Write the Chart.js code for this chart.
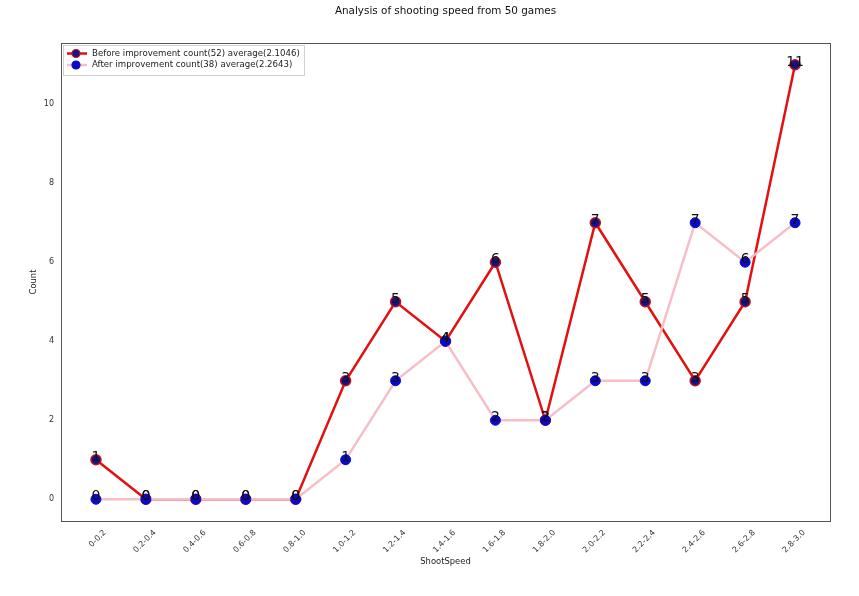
<!DOCTYPE html>
<html lang="en">
<head>
<meta charset="UTF-8">
<title>Analysis of shooting speed from 50 games</title>
<script src="https://cdn.jsdelivr.net/npm/chart.js"></script>
<style>
  html, body { margin: 0; padding: 0; background: #fff; }
  #wrap { width: 859px; height: 596px; }
</style>
</head>
<body>
<div id="wrap"><canvas id="shootChart" width="859" height="596"></canvas></div>
<script>
const categories = ['0-0.2', '0.2-0.4', '0.4-0.6', '0.6-0.8', '0.8-1.0', '1.0-1.2', '1.2-1.4', '1.4-1.6',
  '1.6-1.8', '1.8-2.0', '2.0-2.2', '2.2-2.4', '2.4-2.6', '2.6-2.8', '2.8-3.0']
const beforeCounts = [1, 0, 0, 0, 0, 3, 5, 4, 6, 2, 7, 5, 3, 5, 11]
const afterCounts = [0, 0, 0, 0, 0, 1, 3, 4, 2, 2, 3, 3, 7, 6, 7]
const yTicks = [0, 2, 4, 6, 8, 10]
const beforeLabel = 'Before improvement count(52) average(2.1046)'
const afterLabel = 'After improvement count(38) average(2.2643)'
const chartTitle = 'Analysis of shooting speed from 50 games'

const FONT = "'DejaVu Sans', sans-serif"

// matplotlib-ish frame: fixed plot box
const BOX = { left: 61, top: 43, right: 830, bottom: 521 }

const valueLabels = {
  id: 'valueLabels',
  afterDatasetsDraw(chart) {
    const ctx = chart.ctx
    ctx.save()
    ctx.font = '14px ' + FONT
    ctx.fillStyle = '#111'
    ctx.textAlign = 'center'
    ctx.textBaseline = 'alphabetic'
    chart.data.datasets.forEach((ds, di) => {
      chart.getDatasetMeta(di).data.forEach((pt, i) => {
        ctx.fillText(String(ds.data[i].y), pt.x, pt.y + 1)
      })
    })
    ctx.restore()
  }
}

const frameAndLegend = {
  id: 'frameAndLegend',
  afterDraw(chart) {
    const ctx = chart.ctx
    const a = chart.chartArea
    ctx.save()
    ctx.strokeStyle = '#555'
    ctx.lineWidth = 1
    ctx.strokeRect(a.left + 0.5, a.top + 0.5, a.right - a.left, a.bottom - a.top)

    // title
    ctx.fillStyle = '#111'
    ctx.font = '10.4px ' + FONT
    ctx.textAlign = 'center'
    ctx.textBaseline = 'middle'
    ctx.fillText(chartTitle, (a.left + a.right) / 2, 11)

    // legend box
    const lx = 63, ly = 45, lw = 241, lh = 30
    ctx.fillStyle = 'rgba(255,255,255,0.85)'
    ctx.fillRect(lx, ly, lw, lh)
    ctx.strokeStyle = '#d0d0d0'
    ctx.strokeRect(lx + 0.5, ly + 0.5, lw, lh)
    const rows = [beforeLabel, afterLabel]
    chart.data.datasets.forEach((ds, di) => {
      const y = ly + 8.5 + di * 11.5
      ctx.strokeStyle = ds.borderColor
      ctx.lineWidth = ds.borderWidth
      ctx.beginPath()
      ctx.moveTo(lx + 4, y)
      ctx.lineTo(lx + 24, y)
      ctx.stroke()
      ctx.beginPath()
      ctx.arc(lx + 13, y, 4, 0, Math.PI * 2)
      ctx.fillStyle = ds.pointBackgroundColor
      ctx.fill()
      ctx.lineWidth = 1.2
      ctx.strokeStyle = ds.pointBorderColor
      ctx.stroke()
      ctx.fillStyle = '#222'
      ctx.font = '8.6px ' + FONT
      ctx.textAlign = 'left'
      ctx.textBaseline = 'middle'
      ctx.fillText(rows[di], lx + 29, y)
    })
    ctx.restore()
  }
}

const toPoints = arr => arr.map((v, i) => ({ x: i, y: v }))

new Chart(document.getElementById('shootChart').getContext('2d'), {
  type: 'line',
  data: {
    datasets: [
      {
        label: beforeLabel,
        data: toPoints(beforeCounts),
        borderColor: '#e31010',
        borderWidth: 2.5,
        pointBackgroundColor: '#14148a',
        pointBorderColor: '#c0101a',
        pointBorderWidth: 1.5,
        pointRadius: 5,
        tension: 0,
        order: 2
      },
      {
        label: afterLabel,
        data: toPoints(afterCounts),
        borderColor: '#f6bfc8',
        borderWidth: 2.5,
        pointBackgroundColor: '#0a0ac8',
        pointBorderColor: '#0a0ac8',
        pointBorderWidth: 1,
        pointRadius: 5,
        tension: 0,
        order: 1
      }
    ]
  },
  options: {
    responsive: false,
    animation: false,
    layout: { padding: { left: 0, top: BOX.top, right: 859 - BOX.right, bottom: 0 } },
    plugins: {
      legend: { display: false },
      tooltip: { enabled: false },
      title: { display: false }
    },
    scales: {
      x: {
        type: 'linear',
        min: -0.7,
        max: 14.7,
        afterBuildTicks: axis => { axis.ticks = categories.map((_, i) => ({ value: i })) },
        afterFit: axis => { axis.height = 596 - BOX.bottom },
        grid: { display: false, drawTicks: true, tickLength: 4, tickColor: '#444' },
        border: { display: false },
        ticks: {
          callback: v => categories[v],
          autoSkip: false,
          maxRotation: 45,
          minRotation: 45,
          labelOffset: 9,
          color: '#333',
          font: { family: FONT, size: 8 },
          padding: 3
        },
        title: {
          display: true,
          text: 'ShootSpeed',
          color: '#222',
          font: { family: FONT, size: 8.4 },
          padding: { top: 0, bottom: 29 }
        }
      },
      y: {
        min: -0.55,
        max: 11.55,
        afterBuildTicks: axis => { axis.ticks = yTicks.map(v => ({ value: v })) },
        afterFit: axis => { axis.width = BOX.left },
        grid: { display: false, drawTicks: true, tickLength: 4, tickColor: '#444' },
        border: { display: false },
        ticks: { color: '#333', font: { family: FONT, size: 8 }, padding: 3 },
        title: {
          display: true,
          text: 'Count',
          color: '#222',
          font: { family: FONT, size: 8.4 },
          padding: { top: 29, bottom: 0 }
        }
      }
    }
  },
  plugins: [valueLabels, frameAndLegend]
})
</script>
</body>
</html>
